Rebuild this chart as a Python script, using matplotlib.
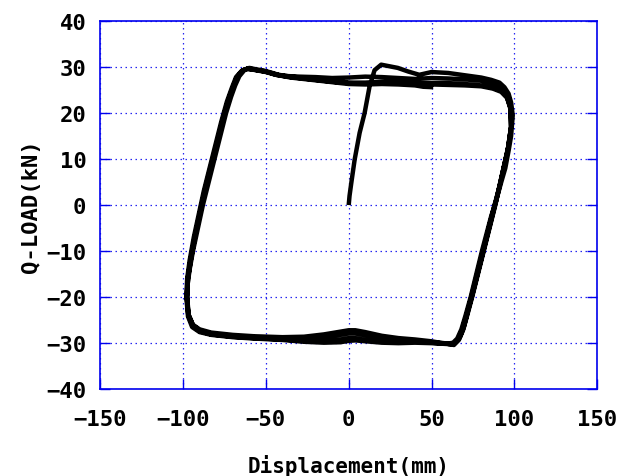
import matplotlib
matplotlib.use("Agg")
import matplotlib.pyplot as plt
import numpy as np

# 初期載荷 (0,0) -> 右上
initial = [(0, 0), (0.5, 2), (1.6, 4.9), (3.6, 9.9), (6.6, 15.7), (9.6, 20), (12.6, 25.8),
           (15.6, 29.3), (19.6, 30.5), (24, 30.2), (29.6, 29.8), (36, 29.0), (42.6, 28.3),
           (50, 28.9), (60, 28.7), (70, 28.2), (80, 27.7), (86, 27.2), (91, 26.6), (94, 25.6),
           (96.5, 24.2), (98, 22.3)]

# 1サイクル目: 右側下降 -> 下辺 -> 左側上昇 -> 上辺
cycle_1 = [(99, 19.5), (98, 15), (96.6, 12), (94.5, 8), (92, 4.9), (89, 1), (86, -2.4),
           (83, -6.5), (80.4, -10), (77, -15), (73.6, -20), (70.5, -24), (68, -27), (65.5, -29),
           (63, -29.9), (60, -30.1),
           (55, -29.9), (50, -29.6), (40, -29.2), (30, -28.9), (20, -28.4), (10, -27.6), (4, -27.2),
           (0, -27.2), (-5, -27.5), (-15, -28.1), (-27, -28.6), (-40, -28.7), (-57, -28.5),
           (-70, -28.2), (-83, -27.7), (-90, -27), (-94, -26), (-96.5, -24), (-97.5, -21),
           (-97.5, -18), (-96, -14), (-94, -10), (-91, -5), (-88, 0), (-84.5, 5), (-81, 10),
           (-77.5, 15), (-74, 20), (-71, 23.5), (-68.5, 26), (-66, 28), (-63, 29.3), (-60, 29.8),
           (-56, 29.5),
           (-51, 29.2), (-45, 28.6), (-41, 28.1), (-30, 27.9), (-20, 27.8), (-10, 27.6), (0, 27.7),
           (10, 27.9), (20, 27.8), (30, 27.6), (40, 27.4), (50, 27.6), (60, 27.5), (70, 27.3),
           (80, 27.0), (86, 26.5), (91, 25.8), (94.5, 24.8), (97, 23), (98, 20)]

cycle_2 = [(98, 17), (96, 12), (93.5, 8), (91, 4), (88, 0), (84.5, -5), (81, -10), (77.5, -15),
           (74, -20), (71, -24), (68.5, -27), (66, -29.2), (63, -30.3), (59, -30.1),
           (50, -29.9), (40, -29.6), (30, -29.6), (20, -29.7), (10, -29.3), (4, -28.9), (0, -28.9),
           (-5, -29.2), (-15, -29.6), (-27, -29.5), (-40, -29.2), (-57, -28.9), (-70, -28.6),
           (-83, -28.1), (-90, -27.4), (-94, -26.3), (-96.8, -24), (-97.7, -20),
           (-97.2, -16), (-95.5, -12), (-93, -7), (-90, -2), (-87, 3), (-83.5, 8), (-80, 13),
           (-76.5, 18), (-73, 22.5), (-70, 25.5), (-67.5, 27.8), (-64, 29.3), (-61, 29.6),
           (-56, 29.3),
           (-50, 28.9), (-44, 28.3), (-35, 27.8), (-20, 27.2), (-10, 26.8), (0, 26.5), (10, 26.4),
           (20, 26.6), (30, 26.6), (40, 26.5), (50, 26.5), (60, 26.5), (70, 26.3), (80, 26.0),
           (87, 25.5), (92, 24.8), (95.5, 23.5), (97.5, 21)]

cycle_3 = [(98, 17), (96.5, 13), (94, 9), (91.5, 5), (89, 1), (85.5, -4), (82, -9), (78.5, -14),
           (75, -19), (72, -23), (69.5, -26.5), (67, -28.8), (64, -30), (60, -30.2),
           (50, -30), (40, -29.9), (30, -30), (20, -29.9), (10, -29.6), (4, -29.4), (0, -29.5),
           (-5, -29.8), (-15, -29.9), (-27, -29.7), (-40, -29.3), (-57, -29.0), (-70, -28.7),
           (-83, -28.2), (-90, -27.6), (-94.5, -26.5), (-97, -24.2), (-98, -20),
           (-97.5, -16), (-96, -12), (-93.5, -7), (-90.5, -2), (-87.5, 3), (-84, 8), (-80.5, 13),
           (-77, 18), (-73.5, 22.5), (-70.5, 25.5), (-68, 27.8), (-64.5, 29.2), (-61.5, 29.6),
           (-57, 29.4),
           (-50, 29.0), (-44, 28.4), (-35, 27.9), (-20, 27.4), (-10, 27.0), (0, 26.6), (10, 26.6),
           (20, 26.8), (30, 26.8), (40, 26.4), (50, 26.2), (60, 26.1), (70, 26.0), (80, 25.8),
           (87, 25.3), (92, 24.6), (95.5, 23.3), (97.8, 21)]

# 最終サイクル (x=50付近で終了)
cycle_last = [(98, 17), (96, 12), (93.5, 8), (91, 4), (88.5, 0), (85, -5), (81.5, -10), (78, -15),
              (74.5, -20), (71.5, -24), (69, -27.2), (66.5, -29.3), (63.5, -30.4), (59, -30.1),
              (50, -29.8), (40, -29.5), (30, -29.3), (20, -29.0), (10, -28.3), (4, -27.9),
              (0, -27.9), (-5, -28.2), (-15, -28.7), (-27, -29.0), (-40, -29.0), (-57, -28.7),
              (-70, -28.4), (-83, -27.9), (-90, -27.2), (-94, -26.1), (-96.6, -23.8), (-97.5, -20),
              (-97, -16), (-95.3, -12), (-92.8, -7), (-89.8, -2), (-86.8, 3), (-83.3, 8),
              (-79.8, 13), (-76.3, 18), (-72.8, 22.5), (-69.8, 25.5), (-67.3, 27.8), (-63.5, 29.3),
              (-60.5, 29.7), (-55, 29.3),
              (-50, 29.0), (-44, 28.3), (-35, 27.7), (-20, 27.1), (-10, 26.7), (0, 26.3), (10, 26.2),
              (20, 26.3), (30, 26.2), (40, 26.0), (45, 25.7), (51, 25.6)]

x_ticks = [-150, -100, -50, 0, 50, 100, 150]
y_ticks = [-40, -30, -20, -10, 0, 10, 20, 30, 40]

path = np.array(initial + cycle_1 + cycle_2 + cycle_3 + cycle_last)

family = ['DejaVu Sans Mono']
blue = '#0000ee'

fig = plt.figure(figsize=(6.3, 4.77), dpi=100)
ax = fig.add_axes([0.159, 0.182, 0.789, 0.772])

ax.plot(path[:, 0], path[:, 1], color='black', linewidth=3.2,
        solid_joinstyle='round', solid_capstyle='butt', zorder=3)

ax.set_xlim(-150, 150)
ax.set_ylim(-40, 40)
ax.set_xticks(x_ticks)
ax.set_yticks(y_ticks)

ax.grid(True, color=blue, linestyle=(0, (1.2, 2.8)), linewidth=0.9, alpha=0.85)
for s in ax.spines.values():
    s.set_color(blue)
    s.set_linewidth(1.2)

ax.tick_params(axis='both', direction='in', length=7, color=blue, width=1.0,
               right=True, labelsize=16)
ax.tick_params(axis='x', pad=14)
ax.tick_params(axis='y', pad=10)
for lab in ax.get_xticklabels() + ax.get_yticklabels():
    lab.set_fontfamily(family)
    lab.set_fontweight('bold')

ax.set_xlabel('Displacement(mm)', family=family, fontweight='bold', fontsize=15, labelpad=18)
ax.set_ylabel('Q-LOAD(kN)', family=family, fontweight='bold', fontsize=16, labelpad=4)

fig.savefig('out.png', dpi=100)
